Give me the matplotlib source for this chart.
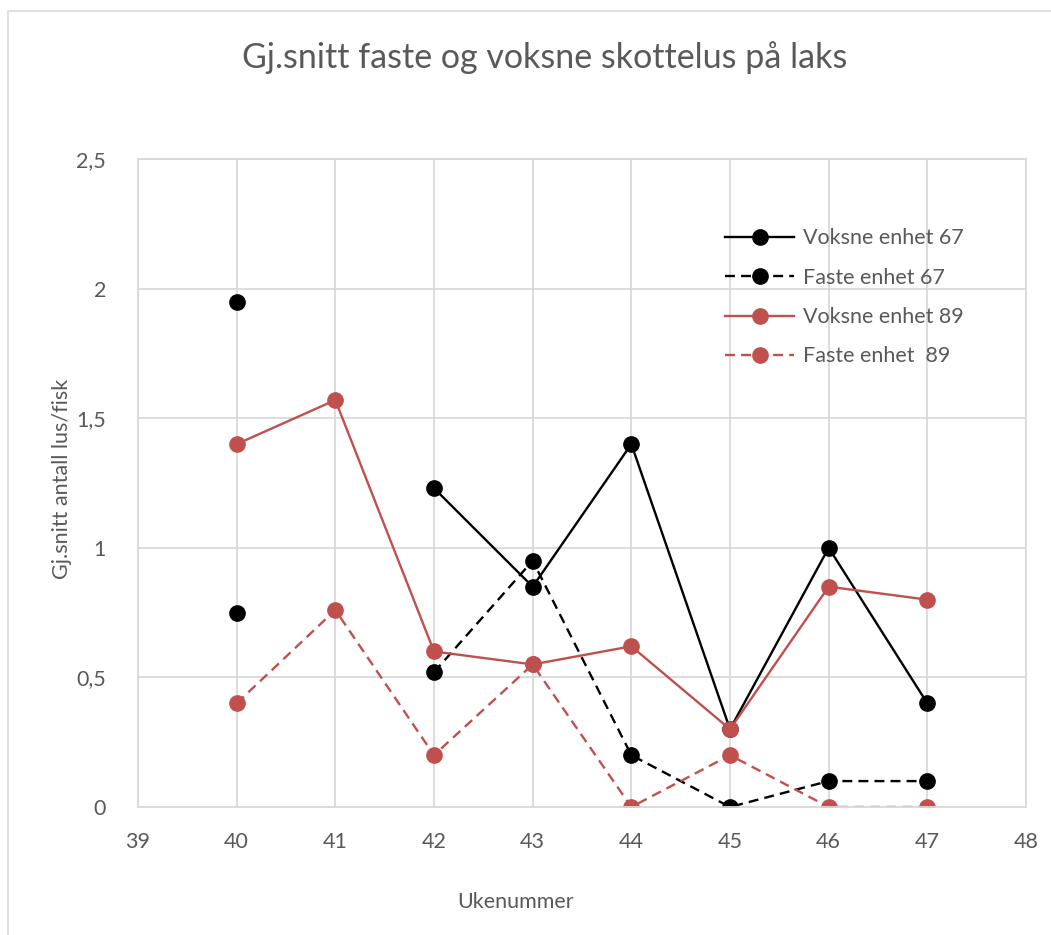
import numpy as np
import matplotlib.pyplot as plt
from matplotlib.patches import Rectangle

weeks = [40, 41, 42, 43, 44, 45, 46, 47]
voksne_67 = [1.95, np.nan, 1.23, 0.85, 1.40, 0.30, 1.00, 0.40]
faste_67 = [0.75, np.nan, 0.52, 0.95, 0.20, 0.00, 0.10, 0.10]
voksne_89 = [1.40, 1.57, 0.60, 0.55, 0.62, 0.30, 0.85, 0.80]
faste_89 = [0.40, 0.76, 0.20, 0.55, 0.00, 0.20, 0.00, 0.00]
labels = ['Voksne enhet 67', 'Faste enhet 67', 'Voksne enhet 89', 'Faste enhet  89']

plt.rcParams['font.family'] = ['Lato', 'DejaVu Sans']
txt = '#595959'
grid = '#d9d9d9'
red = '#c0504d'

W, H = 1051, 935
fig = plt.figure(figsize=(W / 100, H / 100), dpi=100)
fig.patches.append(Rectangle((8 / W, -0.1), 1.2, 1 - 11 / H + 0.1,
                             transform=fig.transFigure, fill=False,
                             edgecolor=grid, linewidth=1.2))
ax = fig.add_axes([138 / W, 1 - 807 / H, 888 / W, 648 / H])

dash = (4.2, 2.6)
lw = 1.7
ax.plot(weeks, voksne_67, color='black', lw=lw, marker='o', ms=11, label=labels[0])
ax.plot(weeks, faste_67, color='black', lw=lw, marker='o', ms=11,
        linestyle=(0, dash), label=labels[1])
ax.plot(weeks, voksne_89, color=red, lw=lw, marker='o', ms=11, label=labels[2])
ax.plot(weeks, faste_89, color=red, lw=lw, marker='o', ms=11,
        linestyle=(0, dash), label=labels[3])

ax.set_xlim(39, 48)
ax.set_ylim(0, 2.5)
ax.set_xticks(range(39, 49))
ax.set_yticks([0, 0.5, 1, 1.5, 2, 2.5])
ax.set_yticklabels(['0', '0,5', '1', '1,5', '2', '2,5'])
ax.grid(True, color=grid, lw=1.3)
ax.set_axisbelow(True)
for s in ax.spines.values():
    s.set_color(grid)
    s.set_linewidth(1.3)
ax.tick_params(length=0, labelsize=15.5, labelcolor=txt)
ax.tick_params(axis='y', pad=23)
ax.tick_params(axis='x', pad=18)

# axis titles sit where Excel put them, not centred on the plot area
fig.text(516 / W, 1 - 902 / H, 'Ukenummer', ha='center', va='center',
         fontsize=15.5, color=txt)
fig.text(62 / W, 1 - 479 / H, 'Gj.snitt antall lus/fisk', ha='center',
         va='center', rotation=90, fontsize=15.5, color=txt)
fig.text(545 / W, 1 - 58 / H, 'Gj.snitt faste og voksne skottelus på laks',
         ha='center', va='center', fontsize=24.5, color=txt)

leg = ax.legend(loc='upper left', bbox_to_anchor=(706 / W, 1 - 209 / H),
                bbox_transform=fig.transFigure, frameon=False, fontsize=15.5,
                handlelength=3.2, handletextpad=0.4, labelspacing=0.9,
                labelcolor=txt)

fig.savefig('out.png', dpi=100)
